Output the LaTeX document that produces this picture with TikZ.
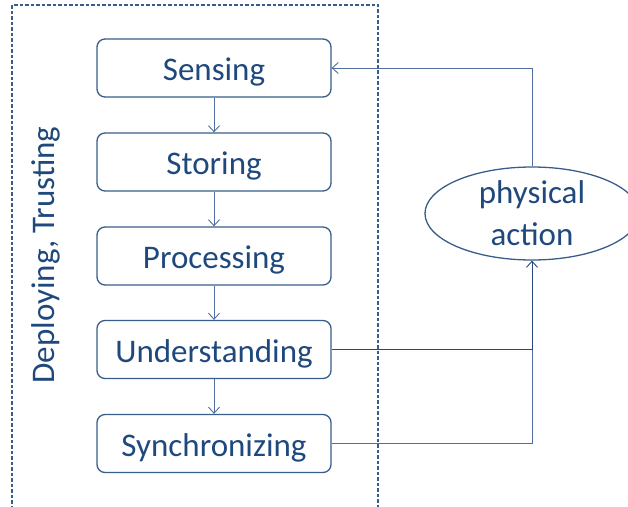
\documentclass[tikz,border=0pt]{standalone}
\usepackage{fontspec}
\setmainfont{Carlito}
\usetikzlibrary{arrows.meta,shapes.geometric}
\definecolor{txtblue}{RGB}{31,73,125}
\definecolor{boxblue}{RGB}{56,93,138}
\definecolor{lineblue}{RGB}{80,110,160}
\definecolor{darkline}{RGB}{40,70,130}
\tikzset{
  stepbox/.style={draw=boxblue,line width=1.3pt,rounded corners=8pt,minimum width=234pt,minimum height=58pt,inner sep=0pt,text height=28pt,text depth=2.5pt,text=txtblue,font=\fontsize{33}{40}\selectfont},
  flow/.style={draw=lineblue,line width=1pt,-{Straight Barb[length=6pt,width=11pt,line width=0.9pt]}},
  feed/.style={draw=lineblue,line width=1pt},
}
\begin{document}
\begin{tikzpicture}[x=1pt,y=-1pt]
\useasboundingbox (0,0) rectangle (628,506);
\draw[boxblue,line width=1.2pt,dash pattern=on 3.5pt off 2pt] (12,520) -- (12,5) -- (378,5) -- (378,520);
\node[text=txtblue,font=\fontsize{33}{40}\selectfont,rotate=90] (dt) at (46,255) {Deploying, Trusting};
\node[stepbox] (sen) at (214,68) {Sensing};
\node[stepbox] (sto) at (214,162) {Storing};
\node[stepbox] (pro) at (214,256) {Processing};
\node[stepbox] (und) at (214,349.5) {Understanding};
\node[stepbox] (syn) at (214,443.5) {Synchronizing};
\node[draw=boxblue,line width=1.3pt,ellipse,minimum width=214pt,minimum height=93pt,inner sep=0pt,align=center,text=txtblue,font=\fontsize{33}{42}\selectfont] (pa) at (532,213.5) {physical\\action};
\draw[flow] (sen) -- (sto);
\draw[flow] (sto) -- (pro);
\draw[flow] (pro) -- (und);
\draw[flow] (und) -- (syn);
\coordinate (c1) at (532,349.5);
\draw[feed,darkline] (und.east) -- (c1);
\draw[feed] (syn.east) -- (532,443.5) -- (c1);
\draw[flow,darkline] (c1) -- (pa.south);
\draw[flow] (pa.north) |- (sen.east);
\end{tikzpicture}
\end{document}
